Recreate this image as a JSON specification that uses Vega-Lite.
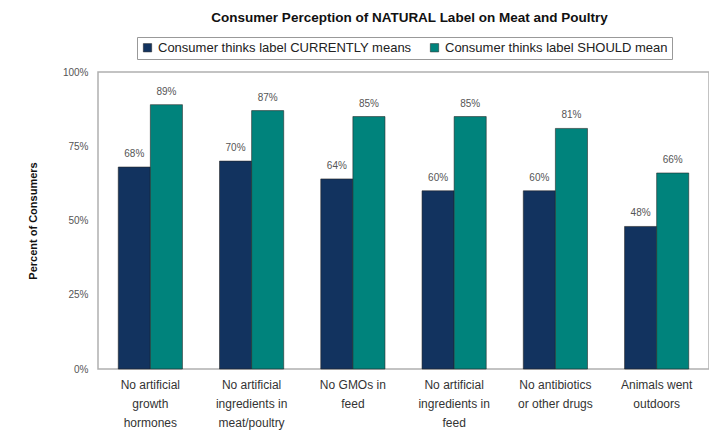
{
  "$schema": "https://vega.github.io/schema/vega-lite/v6.json",
  "autosize": "none",
  "width": 611,
  "height": 297,
  "padding": {"left": 98, "top": 72, "right": 0, "bottom": 65},
  "background": "white",
  "title": {
    "text": "Consumer Perception of NATURAL Label on Meat and Poultry",
    "font": "Liberation Sans",
    "fontSize": 13.5,
    "fontWeight": "bold",
    "color": "#111",
    "anchor": "middle",
    "dx": 6,
    "offset": 12
  },
  "config": {
    "view": {"stroke": "#b0b0b0", "strokeWidth": 1.5},
    "font": "Liberation Sans"
  },
  "data": {
    "values": [
      {"category": "No artificial|growth|hormones", "series": "Consumer thinks label CURRENTLY means", "value": 68},
      {"category": "No artificial|growth|hormones", "series": "Consumer thinks label SHOULD mean", "value": 89},
      {"category": "No artificial|ingredients in|meat/poultry", "series": "Consumer thinks label CURRENTLY means", "value": 70},
      {"category": "No artificial|ingredients in|meat/poultry", "series": "Consumer thinks label SHOULD mean", "value": 87},
      {"category": "No GMOs in|feed", "series": "Consumer thinks label CURRENTLY means", "value": 64},
      {"category": "No GMOs in|feed", "series": "Consumer thinks label SHOULD mean", "value": 85},
      {"category": "No artificial|ingredients in|feed", "series": "Consumer thinks label CURRENTLY means", "value": 60},
      {"category": "No artificial|ingredients in|feed", "series": "Consumer thinks label SHOULD mean", "value": 85},
      {"category": "No antibiotics|or other drugs", "series": "Consumer thinks label CURRENTLY means", "value": 60},
      {"category": "No antibiotics|or other drugs", "series": "Consumer thinks label SHOULD mean", "value": 81},
      {"category": "Animals went|outdoors", "series": "Consumer thinks label CURRENTLY means", "value": 48},
      {"category": "Animals went|outdoors", "series": "Consumer thinks label SHOULD mean", "value": 66}
    ]
  },
  "encoding": {
    "x": {
      "field": "category",
      "type": "nominal",
      "sort": null,
      "scale": {"paddingInner": 0.366, "paddingOuter": 0.2},
      "axis": {
        "title": null,
        "labelAngle": 0,
        "labelExpr": "split(datum.label, '|')",
        "labelFontSize": 12,
        "labelColor": "#333",
        "labelLineHeight": 19,
        "labelPadding": 10,
        "ticks": false,
        "domain": false,
        "labelLimit": 130
      }
    },
    "xOffset": {"field": "series", "type": "nominal", "sort": null},
    "y": {
      "field": "value",
      "type": "quantitative",
      "scale": {"domain": [0, 100]},
      "axis": {
        "title": "Percent of Consumers",
        "titleFontSize": 11,
        "titleFontWeight": "bold",
        "titleColor": "#111",
        "titlePadding": 24,
        "values": [0, 25, 50, 75, 100],
        "labelExpr": "datum.value + '%'",
        "labelFontSize": 10,
        "labelColor": "#555",
        "labelPadding": 10,
        "ticks": false,
        "grid": false,
        "domain": false
      }
    }
  },
  "layer": [
    {
      "mark": {"type": "bar", "stroke": "#222", "strokeWidth": 0.8, "strokeOpacity": 0.7},
      "encoding": {
        "color": {
          "field": "series",
          "type": "nominal",
          "sort": null,
          "scale": {"range": ["#12335f", "#00837c"]},
          "legend": {
            "title": null,
            "orient": "none",
            "direction": "horizontal",
            "legendX": 39,
            "legendY": -35,
            "symbolType": "square",
            "symbolSize": 70,
            "symbolStrokeColor": "#222",
            "symbolStrokeWidth": 0.5,
            "labelFontSize": 13,
            "labelColor": "#222",
            "labelLimit": 320,
            "columnPadding": 16,
            "symbolOffset": 0,
            "labelOffset": 4,
            "strokeColor": "#999",
            "padding": 4,
            "fillColor": "white"
          }
        }
      }
    },
    {
      "transform": [{"calculate": "datum.value + '%'", "as": "pct"}],
      "mark": {"type": "text", "dy": -13, "fontSize": 10, "color": "#555"},
      "encoding": {
        "text": {"field": "pct", "type": "nominal"},
        "detail": {"field": "series"}
      }
    }
  ]
}
